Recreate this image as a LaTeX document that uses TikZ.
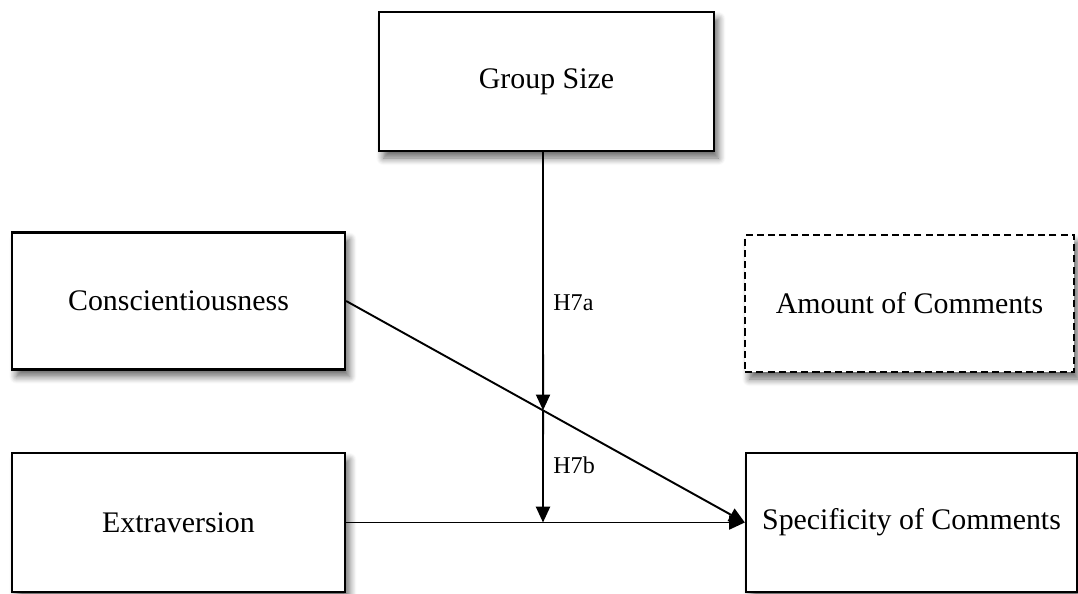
\documentclass[tikz,border=0pt]{standalone}
\usepackage{fontspec}
\setmainfont{Liberation Serif}
\usetikzlibrary{arrows.meta,shadows.blur}

\tikzset{
  box/.style={draw, line width=1.3pt, fill=white, inner sep=0pt,
    minimum width=6.66cm, minimum height=2.74cm,
    font=\fontsize{17}{20}\selectfont,
    blur shadow={shadow xshift=2.5pt, shadow yshift=-4pt, shadow blur steps=8,
      shadow blur radius=4pt, shadow opacity=60}},
  dashbox/.style={box, dash pattern=on 4pt off 2.4pt},
  link/.style={line width=1.1pt, -{Triangle[length=9pt,width=8pt]}},
  hyp/.style={font=\fontsize{13.7}{16}\selectfont, anchor=west, inner sep=0pt}
}

\begin{document}
\begin{tikzpicture}
\useasboundingbox (0,0) rectangle (21.56,11.86);
% boxes
\node[box, minimum width=6.7cm, minimum height=2.78cm] (size) at (10.93,10.23) {Group Size};
\node[box] (consc) at (3.57,5.84) {Conscientiousness};
\node[dashbox, minimum width=6.58cm] (amount) at (18.19,5.79) {Amount of Comments};
\node[box, minimum height=2.78cm] (extra) at (3.57,1.41) {Extraversion};
\node[box, minimum width=6.62cm, minimum height=2.78cm] (spec) at (18.23,1.41) {Specificity of Comments};
% moderator line
\coordinate (gtop) at (10.86,0 |- size.south);
\coordinate (gbot) at (10.86,0 |- extra.east);
\coordinate (mod) at (intersection cs: first line={(gtop)--(gbot)}, second line={(consc.east)--(spec.west)});
% arrows
\draw[link] (consc.east) -- (spec.west);
\draw[link] (extra.east) -- (spec.west);
\draw[link] (gtop) -- (mod);
\draw[link] (mod) -- (gbot);
\node[hyp] (h7a) at (11.06,5.8) {H7a};
\node[hyp] (h7b) at (11.06,2.56) {H7b};
\end{tikzpicture}
\end{document}
